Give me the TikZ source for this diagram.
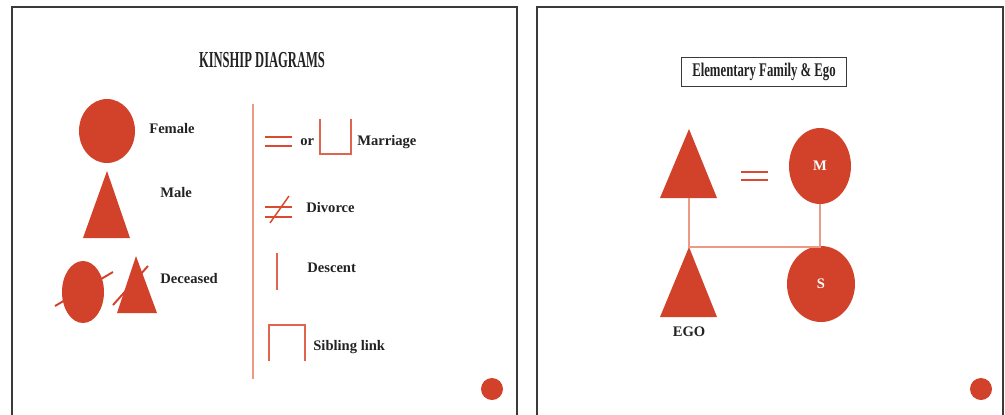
\documentclass[tikz,border=0pt]{standalone}
\usepackage{fontspec}
\setmainfont{Liberation Serif}
\newfontfamily\titlefont[FakeStretch=0.55]{Liberation Serif}
\newfontfamily\boxfont[FakeStretch=0.66]{Liberation Serif}
\usetikzlibrary{shapes.geometric}
\definecolor{kinred}{HTML}{D2412A}
\definecolor{kinline}{HTML}{DA4A30}
\definecolor{kinpale}{HTML}{EC9A84}
\definecolor{framegray}{HTML}{3A3A3A}
\definecolor{textgray}{HTML}{222222}

\begin{document}
\begin{tikzpicture}[x=0.02cm,y=-0.02cm,
  person/.style={ellipse,fill=kinred,inner sep=0pt},
  dot/.style={circle,fill=kinred,minimum size=0.44cm,inner sep=0pt},
  lbl/.style={anchor=west,inner sep=0pt,text=textgray,
    font=\bfseries\fontsize{8.3}{10}\selectfont},
  kin/.style={line width=0.85pt,draw=kinline},
  thin/.style={line width=0.6pt,draw=kinline!85!white},
  link/.style={line width=0.75pt,draw=kinpale}]
  \useasboundingbox (0,0) rectangle (1005,414);
  % frames
  \draw[framegray,line width=0.9pt] (12,416) |- (517,7) -- (517,416);
  \draw[framegray,line width=0.9pt] (537,416) |- (1003,7) -- (1003,416);

  % ---- left slide: legend
  \node[text=textgray,font=\titlefont\bfseries\fontsize{13}{15}\selectfont] (title) at (262,60) {KINSHIP DIAGRAMS};
  \node[person,minimum width=1.12cm,minimum height=1.28cm] (female) at (107,131) {};
  \node[lbl] (femaleL) at (149,129) {Female};
  \coordinate (maleTop) at (107,171);
  \fill[kinred] (maleTop) -- (130,238) -- (83,238) -- cycle;
  \node[lbl] (maleL) at (160,193) {Male};
  \node[person,minimum width=0.84cm,minimum height=1.24cm] (deadF) at (83,292) {};
  \draw[kinred,line width=1.1pt] (55,306) -- (113,272);
  \coordinate (deadTop) at (136,256);
  \fill[kinred] (deadTop) -- (157,313) -- (117,313) -- cycle;
  \draw[kinred,line width=1.1pt] (113,305) -- (148,266);
  \node[lbl] (deadL) at (160,279) {Deceased};

  \draw[kinpale,line width=1.1pt] (253,104) -- (253,379);

  \draw[kin] (265,137) -- (292,137) (265,146) -- (292,146);
  \node[lbl] (orL) at (300,142) {or};
  \draw[thin] (320,119) |- (351,154) -- (351,119);
  \node[lbl] (marL) at (357,142) {Marriage};

  \draw[kin] (265,207) -- (292,207) (265,217) -- (292,217);
  \draw[kin] (270,223) -- (289,196);
  \node[lbl] (divL) at (306,208) {Divorce};

  \draw[thin] (277,253) -- (277,290);
  \node[lbl] (desL) at (307,268) {Descent};

  \draw[thin] (269,361) |- (305,325) -- (305,361);
  \node[lbl] (sibL) at (313,347) {Sibling link};

  \node[dot] (dotA) at (492,389) {};

  % ---- right slide: elementary family
  \node[draw=framegray,line width=0.6pt,minimum width=3.3cm,minimum height=0.58cm,
    text=textgray,font=\boxfont\bfseries\fontsize{11}{13}\selectfont] (famT) at (764,72) {Elementary Family \& Ego};
  \coordinate (faTop) at (689,129);
  \coordinate (faBase) at (689,198);
  \fill[kinred] (faTop) -- (717,198) -- (660,198) -- cycle;
  \draw[kin] (741,172) -- (768,172) (741,180) -- (768,180);
  \node[person,minimum width=1.24cm,minimum height=1.52cm,text=white,
    font=\bfseries\fontsize{8.3}{10}\selectfont] (mo) at (820,166) {M};
  \coordinate (egoTop) at (689,247);
  \fill[kinred] (egoTop) -- (717,317) -- (660,317) -- cycle;
  \node[person,minimum width=1.36cm,minimum height=1.52cm,text=white,
    font=\bfseries\fontsize{8.3}{10}\selectfont] (si) at (821,284) {S};
  \draw[link] (faBase) -- (egoTop) -| (mo.south);
  \node[text=textgray,font=\bfseries\fontsize{8.3}{10}\selectfont] (egoL) at (689,332) {EGO};
  \node[dot] (dotB) at (981,389) {};
\end{tikzpicture}
\end{document}
